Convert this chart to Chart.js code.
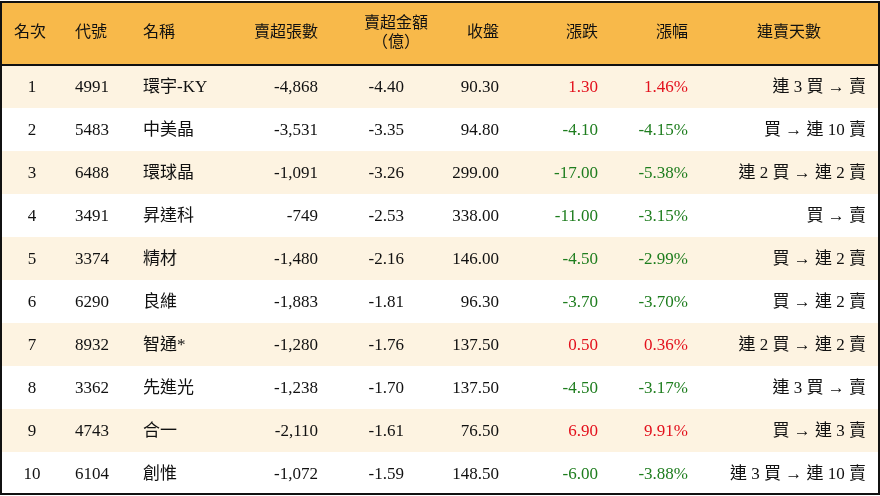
<!DOCTYPE html>
<html>
<head>
<meta charset="utf-8">
<script src="https://cdn.jsdelivr.net/npm/chart.js@4"></script>
<style>
  html, body { margin: 0; padding: 0; background: #fff; }
  #wrap { width: 880px; height: 496px; }
</style>
</head>
<body>
<div id="wrap"><canvas id="tabla"></canvas></div>
<script>
// Datos de la tabla
const headers = ['名次', '代號', '名稱', '賣超張數', '賣超金額\n（億）', '收盤', '漲跌', '漲幅', '連賣天數'];
const ranks = [1, 2, 3, 4, 5, 6, 7, 8, 9, 10];
const codes = ['4991', '5483', '6488', '3491', '3374', '6290', '8932', '3362', '4743', '6104'];
const names = ['環宇-KY', '中美晶', '環球晶', '昇達科', '精材', '良維', '智通*', '先進光', '合一', '創惟'];
const netSellLots = [-4868, -3531, -1091, -749, -1480, -1883, -1280, -1238, -2110, -1072];
const netSellAmount = [-4.40, -3.35, -3.26, -2.53, -2.16, -1.81, -1.76, -1.70, -1.61, -1.59];
const closes = [90.30, 94.80, 299.00, 338.00, 146.00, 96.30, 137.50, 137.50, 76.50, 148.50];
const changes = [1.30, -4.10, -17.00, -11.00, -4.50, -3.70, 0.50, -4.50, 6.90, -6.00];
const changePct = [1.46, -4.15, -5.38, -3.15, -2.99, -3.70, 0.36, -3.17, 9.91, -3.88];
const streaks = ['連 3 買 → 賣', '買 → 連 10 賣', '連 2 買 → 連 2 賣', '買 → 賣', '買 → 連 2 賣',
                 '買 → 連 2 賣', '連 2 買 → 連 2 賣', '連 3 買 → 賣', '買 → 連 3 賣', '連 3 買 → 連 10 賣'];

// Columnas: posición x y alineación (solo estilo)
const cols = [
    { x: 32, align: 'center', hx: 14, halign: 'left' },
    { x: 75, align: 'left' },
    { x: 143, align: 'left' },
    { x: 318, align: 'right' },
    { x: 404, align: 'right', hx: 396, halign: 'center' },
    { x: 499, align: 'right' },
    { x: 598, align: 'right' },
    { x: 688, align: 'right' },
    { x: 866, align: 'right', hx: 789, halign: 'center' }
];

const fmt = (v, d) => v.toLocaleString('en-US', { minimumFractionDigits: d, maximumFractionDigits: d });
const signColor = v => v > 0 ? '#e3101c' : '#1e7d1e';

const rowCells = ranks.map((r, i) => [
    { t: String(r) },
    { t: codes[i] },
    { t: names[i] },
    { t: fmt(netSellLots[i], 0) },
    { t: fmt(netSellAmount[i], 2) },
    { t: fmt(closes[i], 2) },
    { t: fmt(changes[i], 2), c: signColor(changes[i]) },
    { t: fmt(changePct[i], 2) + '%', c: signColor(changePct[i]) },
    { t: streaks[i] }
]);

const FONT = '"Liberation Serif", "Noto Sans CJK TC", serif';

const tablaPlugin = {
    id: 'tabla',
    beforeDatasetsDraw(chart) {
        const ctx = chart.ctx;
        const xs = chart.scales.x, ys = chart.scales.y;
        const half = Math.abs(ys.getPixelForValue(0.5) - ys.getPixelForValue(0));
        const left = xs.getPixelForValue(0), right = xs.getPixelForValue(880);
        const headTop = ys.getPixelForValue(-0.99), headBot = ys.getPixelForValue(0.5);
        ctx.save();
        // encabezado
        ctx.fillStyle = '#f8b94a';
        ctx.fillRect(left, headTop, right - left, headBot - headTop);
        // filas
        ranks.forEach((r, i) => {
            const yc = ys.getPixelForValue(r);
            ctx.fillStyle = i % 2 === 0 ? '#fdf3e1' : '#ffffff';
            ctx.fillRect(left, yc - half, right - left, half * 2);
        });
        // línea bajo encabezado
        ctx.strokeStyle = '#111';
        ctx.lineWidth = 2;
        ctx.beginPath();
        ctx.moveTo(left, headBot);
        ctx.lineTo(right, headBot);
        ctx.stroke();
        // textos del encabezado
        ctx.fillStyle = '#111';
        ctx.font = '16px ' + FONT;
        ctx.textBaseline = 'middle';
        const hc = (headTop + headBot) / 2;
        headers.forEach((h, j) => {
            const c = cols[j];
            ctx.textAlign = c.halign || c.align;
            const x = xs.getPixelForValue(c.hx !== undefined ? c.hx : c.x);
            const lines = h.split('\n');
            lines.forEach((ln, k) => {
                ctx.fillText(ln, x, hc + (k - (lines.length - 1) / 2) * 19);
            });
        });
        // celdas
        ctx.font = '17px ' + FONT;
        rowCells.forEach((cells, i) => {
            const yc = ys.getPixelForValue(ranks[i]);
            cells.forEach((cell, j) => {
                ctx.fillStyle = cell.c || '#111';
                ctx.textAlign = cols[j].align;
                ctx.fillText(cell.t, xs.getPixelForValue(cols[j].x), yc + 1);
            });
        });
        // borde exterior
        ctx.strokeStyle = '#111';
        ctx.lineWidth = 2;
        ctx.strokeRect(left + 1, headTop + 1, right - left - 2, ys.getPixelForValue(10.5) - headTop - 2);
        ctx.restore();
    }
};

new Chart(document.getElementById('tabla'), {
    type: 'scatter',
    data: {
        datasets: [{
            data: ranks.map(r => ({ x: 0, y: r })),
            pointRadius: 0
        }]
    },
    options: {
        responsive: true,
        maintainAspectRatio: false,
        animation: false,
        layout: { padding: { top: 1, bottom: 1 } },
        plugins: { legend: { display: false }, tooltip: { enabled: false } },
        scales: {
            x: { type: 'linear', min: 0, max: 880, display: false },
            y: { type: 'linear', min: -0.99, max: 10.5, reverse: true, display: false }
        }
    },
    plugins: [tablaPlugin]
});
</script>
</body>
</html>
